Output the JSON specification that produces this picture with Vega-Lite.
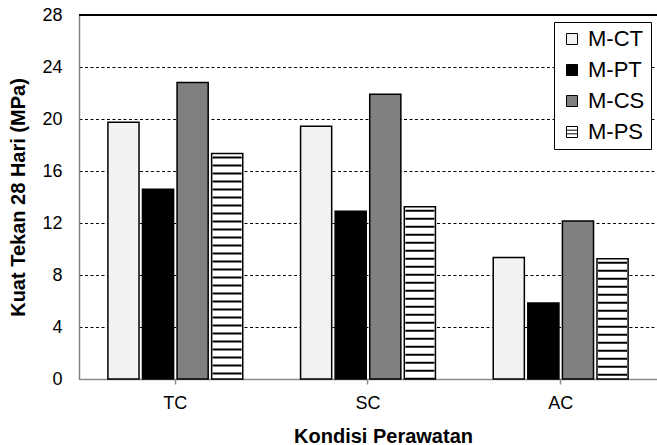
{
  "$schema": "https://vega.github.io/schema/vega-lite/v6.json",
  "autosize": {"type": "none"},
  "padding": {"left": 79, "top": 15, "right": 0, "bottom": 66},
  "width": 578,
  "height": 364,
  "background": "white",
  "config": {
    "view": {"stroke": null},
    "font": "Liberation Sans",
    "axis": {"labelFont": "Liberation Sans", "titleFont": "Liberation Sans", "labelColor": "#000000", "titleColor": "#000000"}
  },
  "data": {
    "values": [
      {"kondisi": "TC", "seri": "M-CT", "kuat": 19.75},
      {"kondisi": "TC", "seri": "M-PT", "kuat": 14.6},
      {"kondisi": "TC", "seri": "M-CS", "kuat": 22.8},
      {"kondisi": "TC", "seri": "M-PS", "kuat": 17.35},
      {"kondisi": "SC", "seri": "M-CT", "kuat": 19.45},
      {"kondisi": "SC", "seri": "M-PT", "kuat": 12.9},
      {"kondisi": "SC", "seri": "M-CS", "kuat": 21.9},
      {"kondisi": "SC", "seri": "M-PS", "kuat": 13.25},
      {"kondisi": "AC", "seri": "M-CT", "kuat": 9.35},
      {"kondisi": "AC", "seri": "M-PT", "kuat": 5.85},
      {"kondisi": "AC", "seri": "M-CS", "kuat": 12.15},
      {"kondisi": "AC", "seri": "M-PS", "kuat": 9.25}
    ]
  },
  "encoding": {
    "x": {
      "field": "kondisi", "type": "nominal",
      "sort": ["TC", "SC", "AC"],
      "scale": {"paddingInner": 0.3, "paddingOuter": 0.15},
      "axis": {
        "title": "Kondisi Perawatan",
        "labelAngle": 0,
        "labelFontSize": 18,
        "labelPadding": 10,
        "tickSize": 5,
        "tickColor": "#8c8c8c",
        "tickWidth": 1.5,
        "bandPosition": 0.5,
        "domainColor": "#8c8c8c",
        "domainWidth": 1.5,
        "titleFontSize": 20,
        "titleFontWeight": "bold",
        "titleX": 304,
        "titleY": 63,
        "titleAlign": "center",
        "titleBaseline": "alphabetic"
      }
    },
    "xOffset": {
      "field": "seri", "type": "nominal",
      "scale": {"domain": ["M-CT", "M-PT", "M-CS", "M-PS"], "paddingInner": 0.1}
    }
  },
  "layer": [
    {
      "mark": {"type": "bar", "stroke": "#000000", "strokeWidth": 1.5},
      "encoding": {
        "y": {
          "field": "kuat", "type": "quantitative",
          "scale": {"domain": [0, 28], "nice": false},
          "axis": {
            "title": "Kuat Tekan 28 Hari (MPa)",
            "values": [0, 4, 8, 12, 16, 20, 24, 28],
            "ticks": false,
            "labelFontSize": 18,
            "labelPadding": 17,
            "domainColor": "#808080",
            "domainWidth": 1.5,
            "grid": true,
            "gridColor": "#000000",
            "gridDash": [3, 2.5],
            "gridWidth": 1,
            "titleFontSize": 20,
            "titleFontWeight": "bold",
            "titleX": -61,
            "titleY": 182,
            "titleAlign": "center",
            "titleBaseline": "middle",
            "titleAngle": -90
          }
        },
        "fill": {
          "field": "seri", "type": "nominal",
          "scale": {"domain": ["M-CT", "M-PT", "M-CS", "M-PS"], "range": ["#f2f2f2", "#000000", "#808080", "#ffffff"]},
          "legend": {
            "title": null,
            "orient": "none",
            "legendX": 475,
            "legendY": 7,
            "strokeColor": "#000000",
            "fillColor": "#ffffff",
            "padding": 6,
            "rowPadding": 9,
            "symbolOffset": 1,
            "symbolType": "square",
            "symbolSize": 121,
            "symbolStrokeColor": "#000000",
            "symbolStrokeWidth": 1,
            "symbolOpacity": 1,
            "labelFontSize": 22,
            "labelFont": "Liberation Sans",
            "labelColor": "#000000",
            "labelOffset": 5,
            "encode": {
              "symbols": {
                "update": {
                  "shape": {"signal": "datum.value === 'M-PS' ? 'M-1,-1H1V1H-1Z M-1,-0.33H1 M-1,0.33H1' : 'square'"}
                }
              }
            }
          }
        }
      }
    },
    {
      "transform": [{"filter": "datum.seri === 'M-PS'"}],
      "mark": {"type": "rule", "color": "#000000", "strokeWidth": 29, "strokeDash": [2, 6], "strokeCap": "butt", "strokeDashOffset": -3},
      "encoding": {
        "y": {"field": "kuat", "type": "quantitative"},
        "y2": {"datum": 0}
      }
    },
    {
      "mark": {"type": "rule", "color": "#000000", "strokeWidth": 1},
      "encoding": {
        "y": {"datum": 28},
        "x": {"value": 0},
        "x2": {"value": 578},
        "xOffset": null
      }
    }
  ]
}
